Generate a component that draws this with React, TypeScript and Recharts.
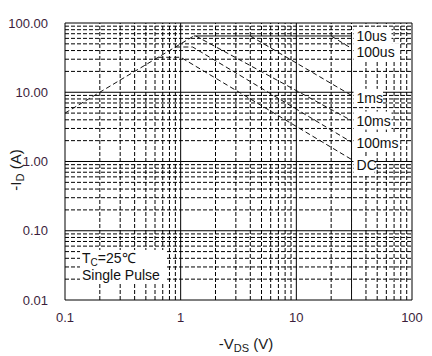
import React from 'react';
import { ComposedChart, Line, XAxis, YAxis, ReferenceLine, ReferenceDot } from 'recharts';

// axis ticks (log decades) and minor grid multipliers
const xTicks = [0.1, 1, 10, 100];
const yTicks = [0.01, 0.1, 1, 10, 100];
const minorSteps = [2, 3, 4, 5, 6, 7, 8, 9];

// Rds(on) limit line
const rdsV = [0.1, 1.3];
const rdsI = [5, 65];
// 10us (drawn solid, drops at BVdss)
const us10V = [1.3, 30, 30];
const us10I = [65, 65, 0.01];
const us100V = [20, 30];
const us100I = [65, 43];
const ms1V = [4, 30];
const ms1I = [65, 9];
const ms10V = [1.35, 30];
const ms10I = [65, 3.9];
const ms100V = [0.9, 1.27, 30];
const ms100I = [45, 45, 1.9];
const dcV = [0.64, 1, 30];
const dcI = [32, 32, 1.07];

const curveNames = ['10us', '100us', '1ms', '10ms', '100ms', 'DC'];
const nameAtV = 30;
const nameAtI = [65, 38, 8.3, 3.9, 1.85, 0.89];

const rows = (v: number[], i: number[]) => v.map((x, k) => ({ v: x, i: i[k] }));

const minorOf = (decades: number[]) =>
    decades.slice(0, -1).flatMap(d => minorSteps.map(m => +(d * m).toPrecision(3)));

const FONT = '"Liberation Sans", Arial, sans-serif';
const TICK = '#3b1e3b';

const NameTag = ({ cx, cy, text }: { cx: number; cy: number; text: string }) => (
    <g>
        <rect x={cx + 2} y={cy - 9} width={text.length * 8.5 + 4} height={18} fill="#fff" />
        <text x={cx + 5} y={cy} dominantBaseline="central" fontSize={14} fontFamily={FONT} fill="#111">
            {text}
        </text>
    </g>
);

const App: React.FC = () => {
    const series = [
        { name: 'rds', data: rows(rdsV, rdsI), dash: '5 3' },
        { name: '10us', data: rows(us10V, us10I), dash: undefined },
        { name: '100us', data: rows(us100V, us100I), dash: '5 3' },
        { name: '1ms', data: rows(ms1V, ms1I), dash: '5 3' },
        { name: '10ms', data: rows(ms10V, ms10I), dash: '5 3' },
        { name: '100ms', data: rows(ms100V, ms100I), dash: '5 3' },
        { name: 'DC', data: rows(dcV, dcI), dash: '5 3' },
    ];

    return (
        <div style={{ position: 'absolute', left: 0, top: 0, width: 432, height: 356, background: '#fff' }}>
            <ComposedChart width={432} height={356} margin={{ top: 23, right: 20, left: 0, bottom: 0 }}>
                <XAxis
                    type="number"
                    dataKey="v"
                    scale="log"
                    domain={[0.1, 100]}
                    ticks={xTicks}
                    allowDataOverflow
                    height={56}
                    axisLine={false}
                    tickLine={false}
                    tickSize={0}
                    tickMargin={13}
                    tick={{ fill: TICK, fontSize: 13, fontFamily: FONT }}
                />
                <YAxis
                    type="number"
                    dataKey="i"
                    scale="log"
                    domain={[0.01, 100]}
                    ticks={yTicks}
                    allowDataOverflow
                    width={65}
                    axisLine={false}
                    tickLine={false}
                    tickSize={0}
                    tickMargin={17}
                    tickFormatter={(t: number) => t.toFixed(2)}
                    tick={{ fill: TICK, fontSize: 13, fontFamily: FONT }}
                />
                {minorOf(xTicks).map(x => (
                    <ReferenceLine key={'xm' + x} x={x} stroke="#000" strokeDasharray="4 2" zIndex={-50} />
                ))}
                {minorOf(yTicks).map(y => (
                    <ReferenceLine key={'ym' + y} y={y} stroke="#000" strokeDasharray="4 2" zIndex={-50} />
                ))}
                {xTicks.map(x => (
                    <ReferenceLine key={'xM' + x} x={x} stroke="#000" zIndex={-40} />
                ))}
                {yTicks.map(y => (
                    <ReferenceLine key={'yM' + y} y={y} stroke="#000" zIndex={-40} />
                ))}
                {series.map(s => (
                    <Line
                        key={s.name}
                        data={s.data}
                        dataKey="i"
                        type="linear"
                        stroke="#111"
                        strokeWidth={1}
                        strokeDasharray={s.dash}
                        dot={false}
                        isAnimationActive={false}
                    />
                ))}
                {curveNames.map((n, k) => (
                    <ReferenceDot
                        key={'n' + n}
                        x={nameAtV}
                        y={nameAtI[k]}
                        r={0}
                        zIndex={3000}
                        shape={(p: any) => <NameTag cx={p.cx} cy={p.cy} text={n} />}
                    />
                ))}
            </ComposedChart>
            <svg
                width={432}
                height={356}
                style={{ position: 'absolute', left: 0, top: 0, pointerEvents: 'none' }}
                fontFamily={FONT}
            >
                <text x={246} y={349} textAnchor="middle" fontSize={15} fill="#1a1a1a">
                    -V<tspan fontSize={11} dy={3}>DS</tspan>
                    <tspan dy={-3}> (V)</tspan>
                </text>
                <text x={21} y={170} textAnchor="middle" fontSize={15} fill="#1a1a1a" transform="rotate(-90 21 170)">
                    -I<tspan fontSize={11} dy={3}>D</tspan>
                    <tspan dy={-3}> (A)</tspan>
                </text>
                <rect x={80} y={250} width={87} height={33} fill="#fff" />
                <text x={82} y={263} fontSize={14} fill="#111">
                    T<tspan fontSize={10} dy={3}>C</tspan>
                    <tspan dy={-3}>=25℃</tspan>
                </text>
                <text x={82} y={280} fontSize={14} fill="#111">
                    Single Pulse
                </text>
            </svg>
        </div>
    );
};

export default App;
